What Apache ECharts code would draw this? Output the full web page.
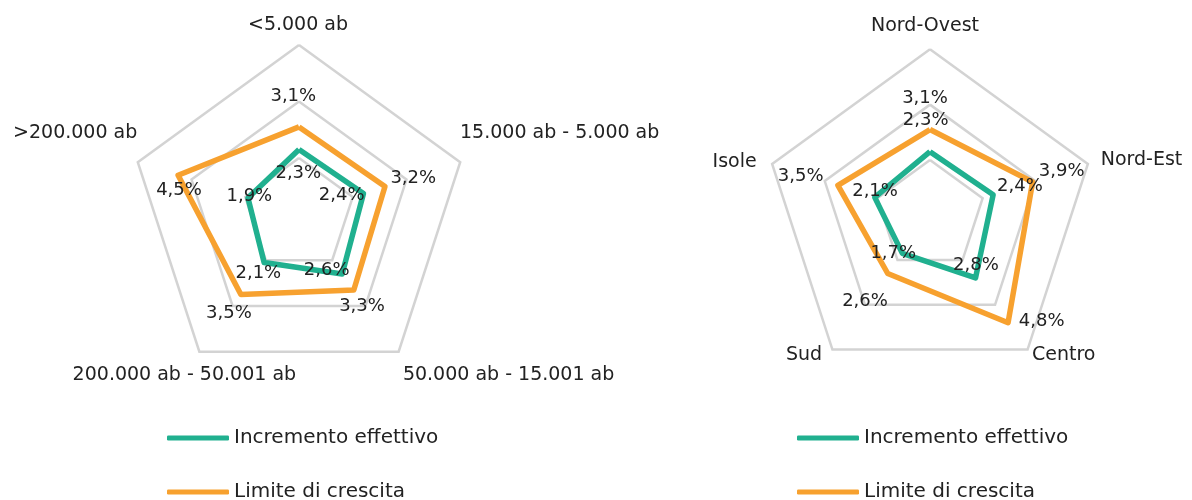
<!DOCTYPE html>
<html>
<head>
<meta charset="utf-8">
<script src="https://cdn.jsdelivr.net/npm/echarts@6/dist/echarts.min.js"></script>
<style>
  html, body { margin: 0; padding: 0; background: #ffffff; }
  #chart { width: 1192px; height: 500px; }
</style>
</head>
<body>
<div id="chart"></div>
<script>
// ---------------- DATA (picture order, clockwise from top) ----------------
const indicatorsLeft = ['<5.000 ab', '15.000 ab - 5.000 ab', '50.000 ab - 15.001 ab', '200.000 ab - 50.001 ab', '>200.000 ab'];
const indicatorsRight = ['Nord-Ovest', 'Nord-Est', 'Centro', 'Sud', 'Isole'];
const seriesNames = ['Incremento effettivo', 'Limite di crescita'];
const incrementoLeft = [2.3, 2.4, 2.6, 2.1, 1.9];
const limiteLeft = [3.1, 3.2, 3.3, 3.5, 4.5];
const incrementoRight = [2.3, 2.4, 2.8, 1.7, 2.1];
const limiteRight = [3.1, 3.9, 4.8, 2.6, 3.5];
const axisMin = 0;
const axisMax = 6;
const axisSplits = 3;

// ---------------- STYLE / LAYOUT ----------------
const FONT = 'DejaVu Sans';
const TEXT = '#222222';
const GREEN = '#20B08F';
const ORANGE = '#F7A12F';
const GRID = '#D3D3D3';

const leftRadar = { center: [299, 214.5], radius: 169.5 };
const rightRadar = { center: [930, 215.3], radius: 166 };

// label offsets (px) from each vertex, per picture index
const labelOffsetsLeft = [
  [[-0.7, 23.8], [-21.8, 1.5], [-15.5, -3.9], [-5.8, 10.8], [1.4, -1.2]],
  [[-5.7, -30.2], [28.3, -8.3], [8.2, 16.8], [-11.9, 18.5], [0.9, 14.8]]
];
const labelOffsetsRight = [
  [[-4.3, -31.7], [26.8, -8.1], [0.4, -13], [-9.1, 0], [0.3, -5.6]],
  [[-5, -31.2], [29, -10.3], [33.6, -1], [-22.7, 28.2], [-37.2, -8.7]]
];
// axis-name shifts (px) from default position, per picture index
const nameShiftLeft = [[-1, 2.7], [-9.7, -25.7], [-1.6, 15.3], [102.6, 15.3], [9, -25.7]];
const nameShiftRight = [[-5, -5], [3.3, -0.9], [-1.5, -2.7], [-4.5, -2.7], [-5.9, 0.8]];

// ECharts places indicators counter-clockwise; picture is clockwise
const ecOrder = [0, 4, 3, 2, 1];
const reorder = arr => ecOrder.map(i => arr[i]);

const NAME_LH = 22;
function richFor(shifts) {
  const rich = {};
  shifts.forEach((s, i) => {
    const dx = s[0], dy = s[1];
    let pad;
    if (i === 0) {
      pad = [0, dx < 0 ? -2 * dx : 0, -dy, dx > 0 ? 2 * dx : 0];
    } else if (i === 1 || i === 2) {
      pad = [dy > 0 ? 2 * dy : 0, 0, dy < 0 ? -2 * dy : 0, dx];
    } else {
      pad = [dy > 0 ? 2 * dy : 0, -dx, dy < 0 ? -2 * dy : 0, 0];
    }
    rich['n' + i] = { fontFamily: FONT, fontSize: 19, color: TEXT, lineHeight: NAME_LH, padding: pad };
  });
  return rich;
}

function radarCfg(names, geo, shifts) {
  return {
    center: geo.center,
    radius: geo.radius,
    startAngle: 90,
    splitNumber: axisSplits,
    shape: 'polygon',
    nameGap: 10,
    indicator: reorder(names).map(n => ({ name: n, min: axisMin, max: axisMax })),
    axisName: {
      color: TEXT, fontFamily: FONT, fontSize: 19, lineHeight: NAME_LH,
      formatter: function (value) {
        const i = names.indexOf(value);
        return '{n' + i + '|' + value + '}';
      },
      rich: richFor(shifts)
    },
    axisLine: { show: false },
    axisTick: { show: false },
    axisLabel: { show: false },
    splitArea: { show: false },
    splitLine: { lineStyle: { color: GRID, width: 2.5 } }
  };
}

function labelLayoutFor(geo, offsets) {
  return function (params) {
    const r = params.rect;
    const px = r.x + r.width / 2;
    const py = r.y + r.height / 2;
    let ang = Math.atan2(px - geo.center[0], geo.center[1] - py) * 180 / Math.PI;
    if (ang < 0) ang += 360;
    const idx = Math.round(ang / 72) % 5;
    const off = offsets[params.dataIndex][idx];
    return { x: px + off[0], y: py + off[1], align: 'center', verticalAlign: 'middle' };
  };
}

function dataItem(name, values, color) {
  return {
    name: name,
    value: reorder(values),
    symbol: 'circle',
    symbolSize: 1,
    itemStyle: { color: color },
    lineStyle: { color: color, width: 5.5 }
  };
}

const labelCfg = {
  show: true,
  fontFamily: FONT,
  fontSize: 18,
  color: TEXT,
  formatter: p => String(p.value).replace('.', ',') + '%'
};

const legendBase = {
  orient: 'vertical',
  top: 427,
  height: 150,
  padding: 0,
  itemWidth: 62,
  itemHeight: 5,
  itemGap: 32,
  icon: 'roundRect',
  selectedMode: false,
  data: seriesNames,
  textStyle: { color: TEXT, fontFamily: FONT, fontSize: 20, lineHeight: 22 }
};

const option = {
  animation: false,
  backgroundColor: '#ffffff',
  legend: [
    Object.assign({ left: 167 }, legendBase),
    Object.assign({ left: 797 }, legendBase)
  ],
  radar: [
    radarCfg(indicatorsLeft, leftRadar, nameShiftLeft),
    radarCfg(indicatorsRight, rightRadar, nameShiftRight)
  ],
  series: [
    {
      type: 'radar',
      radarIndex: 0,
      label: labelCfg,
      labelLayout: labelLayoutFor(leftRadar, labelOffsetsLeft),
      data: [
        dataItem(seriesNames[0], incrementoLeft, GREEN),
        dataItem(seriesNames[1], limiteLeft, ORANGE)
      ]
    },
    {
      type: 'radar',
      radarIndex: 1,
      label: labelCfg,
      labelLayout: labelLayoutFor(rightRadar, labelOffsetsRight),
      data: [
        dataItem(seriesNames[0], incrementoRight, GREEN),
        dataItem(seriesNames[1], limiteRight, ORANGE)
      ]
    }
  ]
};

const chart = echarts.init(document.getElementById('chart'), null, { renderer: 'canvas' });
chart.setOption(option);
</script>
</body>
</html>
